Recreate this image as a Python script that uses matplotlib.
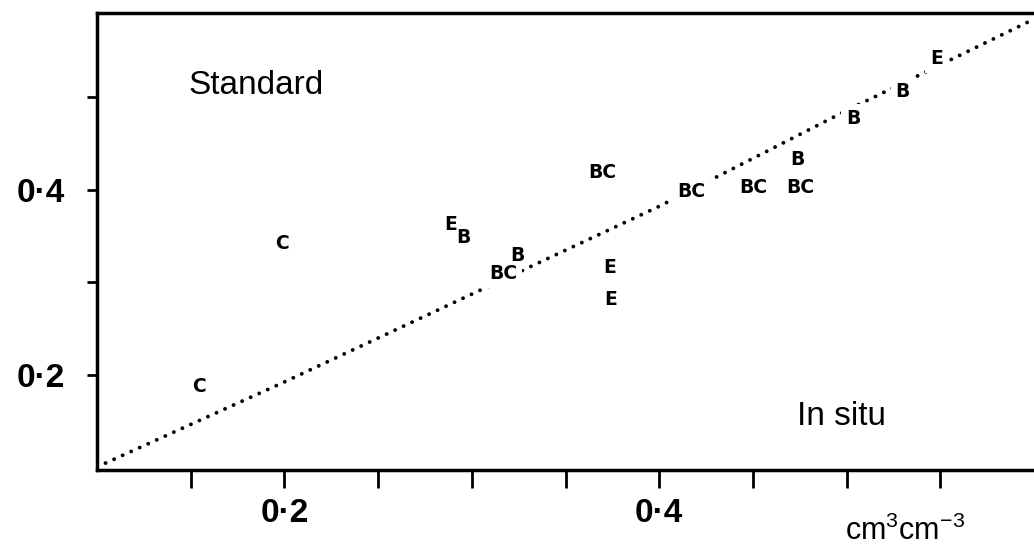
import matplotlib
matplotlib.use("Agg")
import matplotlib.pyplot as plt

# ---- data ----
labels = ["E", "B", "B", "B", "BC", "BC", "BC", "BC", "E", "B", "B", "BC",
          "E", "E", "C", "C"]
in_situ = [0.548, 0.530, 0.5035, 0.4736, 0.450, 0.4752, 0.3697, 0.4172,
           0.2887, 0.2956, 0.3244, 0.3169, 0.3735, 0.374, 0.1985, 0.1543]
standard = [0.541, 0.5064, 0.4772, 0.433, 0.4028, 0.4028, 0.419, 0.3985,
            0.3629, 0.3489, 0.3294, 0.309, 0.3165, 0.282, 0.3424, 0.1871]

# reference (1:1) line as it appears in the figure
line_x = [0.1, 0.2, 0.4, 0.5, 0.6]
line_y = [0.1008, 0.1925, 0.382, 0.4854, 0.584]

x_ticks = [0.15, 0.20, 0.25, 0.30, 0.35, 0.40, 0.45, 0.50, 0.55]
x_ticklabels = ["", "0·2", "", "", "", "0·4", "", "", ""]
y_ticks = [0.2, 0.3, 0.4, 0.5]
y_ticklabels = ["0·2", "", "0·4", ""]

plt.rcParams['font.family'] = ['Liberation Sans', 'DejaVu Sans']
plt.rcParams['mathtext.fontset'] = 'custom'
plt.rcParams['mathtext.rm'] = 'Liberation Sans'
plt.rcParams['mathtext.it'] = 'Liberation Sans'

fig = plt.figure(figsize=(10.34, 5.48), dpi=100)
ax = fig.add_axes([97/1034, 1-470/548, 937/1034, (470-13)/548])
ax.set_xlim(0.1, 0.6)
ax.set_ylim(0.0975, 0.5906)

ax.plot(line_x, line_y, color='black', lw=2.8, ls=(0, (0.01, 2.4)),
        dash_capstyle='round', zorder=1)

lab_font = dict(fontsize=13.5, fontweight='bold',
                family=['DejaVu Sans', 'Liberation Sans'])
# white knock-out boxes under labels, then the labels themselves
for lab, x, y in zip(labels, in_situ, standard):
    ax.text(x, y, lab, ha='center', va='center', color='none', zorder=2,
            bbox=dict(boxstyle='square,pad=0.25', fc='white', ec='none'),
            **lab_font)
for lab, x, y in zip(labels, in_situ, standard):
    ax.text(x, y, lab, ha='center', va='center', color='black', zorder=3,
            **lab_font)

ax.text(0.1489, 0.5031, "Standard", fontsize=24, ha='left', va='baseline')
ax.text(0.4737, 0.146, "In situ", fontsize=24, ha='left', va='baseline')
fig.text(845/1034, 8/548, r"cm$^{3}$cm$^{-3}$", fontsize=22,
         ha='left', va='baseline')

ax.set_xticks(x_ticks)
ax.set_xticklabels(x_ticklabels, fontsize=24, fontweight='bold')
ax.set_yticks(y_ticks)
ax.set_yticklabels(y_ticklabels, fontsize=24, fontweight='bold')
ax.tick_params(axis='x', direction='out', length=13, width=2, pad=7)
ax.tick_params(axis='y', direction='out', length=7, width=2, pad=16)

ax.spines['right'].set_visible(False)
for s in ['left', 'bottom', 'top']:
    ax.spines[s].set_linewidth(2.5)

fig.savefig("out.png", dpi=100)
